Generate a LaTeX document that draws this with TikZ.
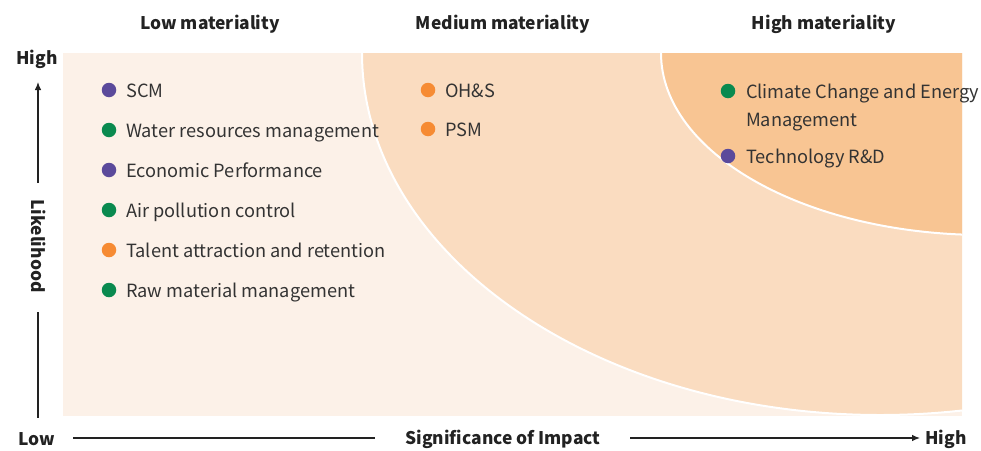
\documentclass[tikz,border=0pt]{standalone}
\usepackage{fontspec}
\setmainfont{Noto Sans CJK SC}
\usetikzlibrary{arrows.meta}
\definecolor{bgl}{HTML}{FCF1E8}
\definecolor{medc}{HTML}{FADCC0}
\definecolor{highc}{HTML}{F8C593}
\definecolor{purp}{HTML}{5B4A9B}
\definecolor{grn}{HTML}{0A8A4F}
\definecolor{orng}{HTML}{F68B33}
\definecolor{txt}{HTML}{333333}
\definecolor{ink}{HTML}{222222}
\begin{document}
\begin{tikzpicture}[x=1pt,y=-1pt,
  dotp/.style={circle,fill=#1,minimum size=14.5pt,inner sep=0pt},
  item/.style={anchor=base west,inner sep=0pt,text=txt,font=\fontsize{18.2}{22}\selectfont},
  head/.style={inner sep=0pt,text=ink,font=\bfseries\fontsize{17.4}{22}\selectfont},
  axl/.style={inner sep=0pt,text=ink,font=\bfseries\fontsize{17.4}{22}\selectfont},
  axline/.style={draw=ink,line width=1.1pt},
  tip/.style={-{Latex[length=8pt,width=6.5pt]}}]
\useasboundingbox (0,0) rectangle (981,450);
% background zones
\fill[bgl] (63,53) rectangle (962,416);
\begin{scope}
  \clip (63,53) rectangle (962,416);
  \fill[medc] (880,53) ellipse [x radius=518, y radius=362];
  \draw[white,line width=2pt] (880,53) ellipse [x radius=518, y radius=362];
  \fill[highc] (985,53) ellipse [x radius=324, y radius=182];
  \draw[white,line width=2pt] (985,53) ellipse [x radius=324, y radius=182];
\end{scope}
% headers
\node[head] (h1) at (210,24.5) {Low materiality};
\node[head] (h2) at (503,24.5) {Medium materiality};
\node[head] (h3) at (824,24.5) {High materiality};
% low items
\node[dotp=purp] (d1) at (109,90) {};
\node[item] (t1) at (126,97) {SCM};
\node[dotp=grn] (d2) at (109,130) {};
\node[item] (t2) at (126,137) {Water resources management};
\node[dotp=purp] (d3) at (109,170) {};
\node[item] (t3) at (126,177) {Economic Performance};
\node[dotp=grn] (d4) at (109,210) {};
\node[item] (t4) at (126,217) {Air pollution control};
\node[dotp=orng] (d5) at (109,250) {};
\node[item] (t5) at (126,257) {Talent attraction and retention};
\node[dotp=grn] (d6) at (109,290) {};
\node[item] (t6) at (126,297) {Raw material management};
% medium items
\node[dotp=orng] (d7) at (428,90) {};
\node[item] (t7) at (445,97) {OH\&S};
\node[dotp=orng] (d8) at (428,129) {};
\node[item] (t8) at (445,136) {PSM};
% high items
\node[dotp=grn] (d9) at (728,91) {};
\node[item] (t9) at (746,98) {Climate Change and Energy};
\node[item] (t9b) at (746,126) {Management};
\node[dotp=purp] (d10) at (728,156) {};
\node[item] (t10) at (746,163) {Technology R\&D};
% axes
\node[axl] (yhi) at (37,59) {High};
\node[axl] (ylo) at (37,439) {Low};
\node[axl] (xhi) at (946,439) {High};
\node[axl] (sig) at (503,439) {Significance of Impact};
\node[axl,rotate=-90] (lik) at (39,246) {Likelihood};
\coordinate (vtop) at (38,82);
\coordinate (vt1) at (38,183);
\coordinate (vb1) at (38,312);
\coordinate (vb2) at (38,418);
\coordinate (hl1) at (73,438);
\coordinate (hl2) at (375,438);
\coordinate (hr1) at (630,438);
\coordinate (hr2) at (920,438);
\draw[axline,tip] (vt1) -- (vtop);
\draw[axline] (vb1) -- (vb2);
\draw[axline] (hl1) -- (hl2);
\draw[axline,tip] (hr1) -- (hr2);
\end{tikzpicture}
\end{document}
